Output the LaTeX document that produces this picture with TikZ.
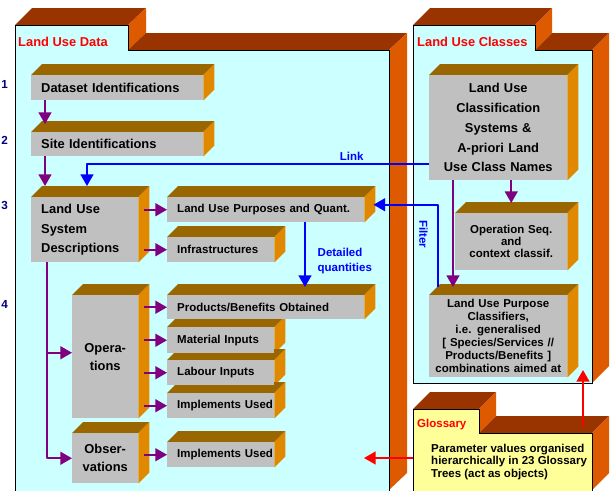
\documentclass[tikz,border=0pt]{standalone}
\usepackage{fontspec}
\setmainfont{Liberation Sans}
\usetikzlibrary{arrows.meta,calc}
\definecolor{pkgtop}{RGB}{153,51,0}
\definecolor{pkgside}{RGB}{222,90,0}
\definecolor{pkgfill}{RGB}{204,255,255}
\definecolor{glossfill}{RGB}{255,255,153}
\definecolor{boxtop}{RGB}{153,102,0}
\definecolor{boxside}{RGB}{224,136,0}
\definecolor{boxfront}{RGB}{192,192,192}
\definecolor{flowpurple}{RGB}{128,0,128}
\definecolor{linkblue}{RGB}{0,0,255}
\definecolor{numblue}{RGB}{0,0,128}
\pgfdeclarelayer{pkg}
\pgfdeclarelayer{faces}
\pgfsetlayers{pkg,faces,main}
% top and side faces of a box node
\newcommand{\boxfaces}[1]{%
  \fill[boxtop] (#1.north west) -- ++(11,-11) -- ($(#1.north east)+(11,-11)$) -- (#1.north east) -- cycle;
  \fill[boxside] (#1.north east) -- ++(11,-11) -- ($(#1.south east)+(11,-11)$) -- (#1.south east) -- cycle;}
\begin{document}
\begin{tikzpicture}[x=0.03cm,y=-0.03cm,line join=round,>={Triangle[width=11pt,length=10pt]}]
	\tikzset{blkbase/.style={fill=boxfront,anchor=north west,inner sep=0pt},
		blk/.style={blkbase,align=left,execute at begin node={\leftskip=0.3cm},font=\bfseries\fontsize{9.8}{12}\selectfont},
		cblk/.style={blkbase,align=center,font=\bfseries\fontsize{9.8}{12}\selectfont},
		big/.style={font=\bfseries\fontsize{11}{17}\selectfont},
		flow/.style={->,draw=flowpurple,line width=1.7pt},
		link/.style={->,draw=linkblue,line width=1.7pt},
		gloss/.style={->,draw=red,line width=1.7pt},
		pkgtitle/.style={anchor=west,inner sep=0pt,text=red,font=\bfseries\fontsize{11}{13}\selectfont},
		lbl/.style={inner sep=0pt,text=linkblue,font=\bfseries\fontsize{9.8}{12.8}\selectfont},
		num/.style={anchor=east,inner sep=0pt,text=numblue,font=\bfseries\fontsize{10}{12}\selectfont}}
	\useasboundingbox (0,0) rectangle (610,490);
	\begin{pgfonlayer}{pkg}
		% Land Use Data
		\fill[pkgtop] (15,25)--(32,8)--(146,8)--(128,25)--cycle;
		\fill[pkgside] (128,25)--(146,8)--(146,33)--(128,50)--cycle;
		\fill[pkgtop] (128,50)--(146,33)--(407,33)--(389,50)--cycle;
		\fill[pkgside] (389,50)--(407,33)--(407,473)--(389,490)--cycle;
		\filldraw[fill=pkgfill,line width=0.6pt] (15,491)--(15,25)--(128,25)--(128,50)--(389,50)--(389,491);
		% Land Use Classes
		\fill[pkgtop] (413,25)--(430,8)--(552,8)--(535,25)--cycle;
		\fill[pkgside] (535,25)--(552,8)--(552,33)--(535,50)--cycle;
		\fill[pkgtop] (535,50)--(552,33)--(609,33)--(592,50)--cycle;
		\fill[pkgside] (592,50)--(609,33)--(609,366)--(592,383)--cycle;
		\filldraw[fill=pkgfill,line width=0.6pt] (413,383)--(413,25)--(535,25)--(535,50)--(592,50)--(592,383)--cycle;
		% Glossary
		\fill[pkgtop] (413,409)--(430,392)--(496,392)--(479,409)--cycle;
		\fill[pkgside] (479,409)--(496,392)--(496,416)--(479,433)--cycle;
		\fill[pkgtop] (479,433)--(496,416)--(609,416)--(592,433)--cycle;
		\fill[pkgside] (592,433)--(609,416)--(609,473)--(592,490)--cycle;
		\filldraw[fill=glossfill,line width=0.6pt] (413,491)--(413,409)--(479,409)--(479,433)--(592,433)--(592,491);
	\end{pgfonlayer}
	\node[pkgtitle] (ludtitle) at (18,42) {Land Use Data};
	\node[pkgtitle] (luctitle) at (417,42) {Land Use Classes};
	\node[pkgtitle,font=\bfseries\fontsize{9.8}{12}\selectfont] (glosstitle) at (417,425) {Glossary};
	\node[anchor=west,inner sep=0pt,align=left,font=\bfseries\fontsize{9.8}{10.3}\selectfont] (gtext) at (431,462) {Parameter values organised\\hierarchically in 23 Glossary\\Trees (act as objects)};
	\foreach \n/\y in {1/84,2/140,3/205,4/304}
	\node[num] (n\n) at (8,\y) {\n};
	% boxes
	\node[blk,big,text width=5.16cm,minimum height=0.75cm] (ds) at (31,75) {Dataset Identifications};
	\node[blk,big,text width=5.16cm,minimum height=0.72cm] (site) at (31,132) {Site Identifications};
	\node[blk,big,text width=3.21cm,minimum height=1.95cm] (lusd) at (31,197) {Land Use\\System\\Descriptions};
	\node[blk,text width=5.91cm,minimum height=0.75cm] (lupq) at (167,197) {Land Use Purposes and Quant.};
	\node[blk,text width=3.21cm,minimum height=0.75cm] (infra) at (167,237) {Infrastructures};
	\node[cblk,font=\bfseries\fontsize{11}{15.4}\selectfont,text width=1.98cm,minimum height=3.69cm] (ops) at (72,295) {Opera-\\tions};
	\node[cblk,font=\bfseries\fontsize{11}{15.4}\selectfont,text width=1.98cm,minimum height=1.5cm] (obs) at (72,433) {Obser-\\vations};
	\node[blk,text width=5.91cm,minimum height=0.72cm] (prod) at (167,295) {Products/Benefits Obtained};
	\node[blk,text width=3.21cm,minimum height=0.78cm] (mat) at (167,327) {Material Inputs};
	\node[blk,text width=3.21cm,minimum height=0.75cm] (lab) at (167,360) {Labour Inputs};
	\node[blk,text width=3.21cm,minimum height=0.75cm] (impl) at (167,393) {Implements Used};
	\node[blk,text width=3.21cm,minimum height=0.75cm] (impltwo) at (167,442) {Implements Used};
	\node[cblk,font=\bfseries\fontsize{11}{16.8}\selectfont,text width=4.14cm,minimum height=3.15cm] (lucs) at (429,75) {Land Use\\Classification\\Systems \&\\A-priori Land\\Use Class Names};
	\node[cblk,font=\bfseries\fontsize{9.8}{10.2}\selectfont,text width=3.36cm,minimum height=1.71cm] (opseq) at (455,213) {Operation Seq.\\and\\context classif.};
	\node[cblk,font=\bfseries\fontsize{9.8}{11.1}\selectfont,text width=4.14cm,minimum height=2.46cm] (lupc) at (429,295) {Land Use Purpose\\Classifiers,\\i.e. generalised\\{[} Species/Services //\\Products/Benefits ]\\combinations aimed at};
	\begin{pgfonlayer}{faces}
		\foreach \b in {ds,site,lusd,lupq,infra,ops,obs,prod,mat,lab,impl,impltwo,lucs,opseq,lupc}
		{\boxfaces{\b}}
	\end{pgfonlayer}
	% connectors
	\draw[flow] ($(ds.south west)+(14,0)$) -- ($(site.north west)+(14,-8)$);
	\draw[flow] ($(site.south west)+(14,0)$) -- ($(lusd.north west)+(14,-11)$);
	\draw[flow] ($(lusd.south west)+(16,0)$) |- (obs.west);
	\draw[flow] ($(lusd.south west)+(16,0)$) |- ($(ops.west)+(0,-4)$);
	\foreach \t in {lupq,infra}
	\draw[flow] ($(lusd.east|-\t.west)+(6,0)$) -- (\t.west);
	\foreach \t in {prod,mat,lab,impl}
	\draw[flow] ($(ops.east|-\t.west)+(6,0)$) -- (\t.west);
	\draw[flow] ($(obs.east|-impltwo.west)+(6,0)$) -- (impltwo.west);
	\draw[flow] (lucs.south -| opseq.north) -- ($(opseq.north)+(0,-10)$);
	\draw[flow] ($(lucs.south west)+(24,0)$) -- ($(lupc.north west)+(24,-8)$);
	\draw[link] ($(lucs.north west)+(0,89)$) -| ($(lusd.north west)+(56,-11)$) node[pos=0.113,above=2pt,lbl] {Link};
	\draw[link] ($(lupq.south west)+(138,0)$) -- ($(prod.north west)+(138,-8)$) node[pos=0.6,right=10pt,lbl,align=left] {Detailed\\quantities};
	\draw[link] ($(lupc.north west)+(9,-8)$) |- ($(lupq.east)+(9,-5)$) node[pos=0.32,lbl,rotate=-90,anchor=north,inner ysep=8pt] {Filter};
	\coordinate (glossleft) at (413,458);
	\coordinate (dataright) at (364,458);
	\coordinate (glosstop) at (583,427);
	\coordinate (classbottom) at (583,370);
	\draw[gloss] (glossleft) -- (dataright);
	\draw[gloss] (glosstop) -- (classbottom);
\end{tikzpicture}
\end{document}
